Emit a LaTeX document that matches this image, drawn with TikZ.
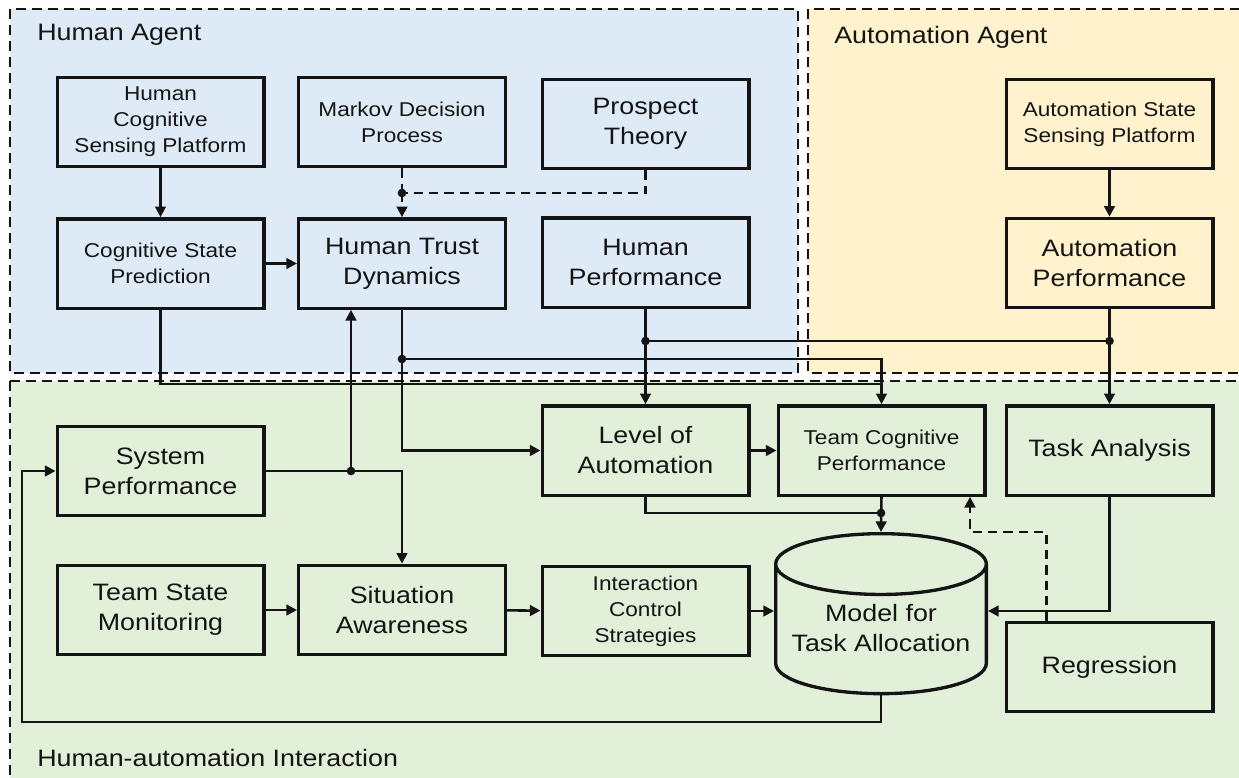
\documentclass[tikz,border=0pt]{standalone}
\usepackage{fontspec}
\setmainfont[FakeStretch=1.13]{Liberation Sans}
\usepackage{xcolor}
\usepackage{tikz}
\usetikzlibrary{positioning,arrows.meta,calc,shapes.geometric}
\definecolor{ink}{RGB}{20,20,20}
\definecolor{humanbg}{RGB}{222,235,247}
\definecolor{autobg}{RGB}{255,242,204}
\definecolor{interbg}{RGB}{226,240,217}
\newcommand{\bigtxt}{\fontsize{17.8}{22.5}\selectfont}
\newcommand{\smalltxt}{\fontsize{15}{19.5}\selectfont}
\tikzset{
  blk/.style={draw=ink, line width=2.5pt, minimum width=155pt, minimum height=67pt,
    align=center, inner sep=2pt, text=ink, font=\bigtxt},
  sblk/.style={blk, font=\smalltxt},
  dbase/.style={draw=ink, line width=2.5pt, cylinder, shape border rotate=90, aspect=0.33,
    minimum width=158pt, minimum height=120pt, inner sep=2pt, font=\bigtxt},
  dtext/.style={align=center, text=ink, font=\bigtxt, yshift=3.75pt},
  region/.style={draw=ink, line width=1.8pt, dash pattern=on 7.5pt off 4.5pt},
  rlabel/.style={anchor=base west, text=ink, font=\bigtxt, inner sep=0pt},
  wire/.style={line width=1.9pt, draw=ink},
  flow/.style={wire, -{Triangle[length=8pt,width=8pt]}},
  dwire/.style={wire, dash pattern=on 7pt off 4.5pt},
  dflow/.style={flow, dash pattern=on 7pt off 4.5pt},
  jn/.style={circle, fill=ink, inner sep=0pt, minimum size=6.5pt},
}
\begin{document}
\begin{tikzpicture}[x=0.75pt, y=-0.75pt]
  \useasboundingbox (0,0) rectangle (1239,778);
  % the three areas
  \begin{scope}
    \clip (0,0) rectangle (1239,778);
    \filldraw[region, fill=humanbg] (10,9) rectangle (798,373);
    \filldraw[region, fill=autobg] (808,9) rectangle (1260,373);
    \filldraw[region, fill=interbg] (10,381) rectangle (1260,800);
  \end{scope}
  \node[rlabel] (lhuman) at (37,40) {Human Agent};
  \node[rlabel] (lauto) at (834,43) {Automation Agent};
  \node[rlabel] (linter) at (37,766) {Human-automation Interaction};

  % human agent
  \node[sblk] (hcsp) at (160.5,122) {Human\\Cognitive\\Sensing Platform};
  \node[sblk] (mdp) at (402,122) {Markov Decision\\Process};
  \node[blk] (pt) at (645.5,124) {Prospect\\Theory};
  \node[sblk] (csp) at (160.5,263.5) {Cognitive State\\Prediction};
  \node[blk] (htd) at (402,263.5) {Human Trust\\Dynamics};
  \node[blk] (hp) at (645.5,262.5) {Human\\Performance};
  % automation agent
  \node[sblk] (assp) at (1109.5,124) {Automation State\\Sensing Platform};
  \node[blk] (ap) at (1109.5,263) {Automation\\Performance};
  % interaction
  \node[blk] (sp) at (160.5,471) {System\\Performance};
  \node[blk] (loa) at (645.5,450.5) {Level of\\Automation};
  \node[sblk] (tcp) at (881.5,450.5) {Team Cognitive\\Performance};
  \node[blk] (ta) at (1109.5,450.5) {Task Analysis};
  \node[blk] (tsm) at (160.5,610) {Team State\\Monitoring};
  \node[blk] (sa) at (402,610) {Situation\\Awareness};
  \node[sblk] (ics) at (645.5,611) {Interaction\\Control\\Strategies};
  \node[dbase, anchor=north, label={[dtext]center:{Model for\\Task Allocation}}] (model)
    at (881,532) {\phantom{Task Allocation}};
  \node[blk] (reg) at (1109.5,667) {Regression};

  % junctions
  \coordinate (jmdp) at (402,193);
  \coordinate (jhp) at (645.5,341);
  \coordinate (jap) at (1109.5,341);
  \coordinate (jhtd) at (402,359);
  \coordinate (cspturn) at (881.5,384);
  \coordinate (jsp) at (351,471);
  \coordinate (jloa) at (881,513);
  \coordinate (rturn) at (970,532);
  \coordinate (loop) at (22,722);

  \draw[flow] (hcsp) -- (csp);
  \draw[flow] (csp) -- (htd);
  \draw[dwire] (mdp) -- (jmdp);
  \draw[dwire] (pt.south) |- (jmdp);
  \draw[dflow] (jmdp) -- (htd);
  \draw[flow] (assp) -- (ap);
  \draw[flow] (hp) -- (loa);
  \draw[wire] (jhp) -- (jap);
  \draw[flow] (ap) -- (ta);
  \draw[flow] (htd.south) |- (loa.west);
  \draw[wire] (csp.south) |- (cspturn);
  \draw[flow] (jhtd) -| (tcp.north);
  \draw[wire] (sp.east) -- (jsp);
  \draw[flow] (jsp) -- (jsp |- htd.south);
  \draw[flow] (jsp) -| (sa.north);
  \draw[flow] (tsm) -- (sa);
  \draw[flow] (sa) -- (ics);
  \draw[flow] (ics.east) -- (ics.east -| model.west);
  \draw[flow] (loa) -- (tcp);
  \draw[wire] (loa.south) |- (jloa);
  \draw[flow] (tcp.south) -- (model.north);
  \draw[flow] (ta.south) |- (ics.east -| model.east);
  \draw[dflow] ($(reg.north west)!0.2!(reg.north east)$) |- (rturn) -- (rturn |- tcp.south);
  \draw[flow] (model.south) |- (loop) |- (sp.west);
  \foreach \j in {jmdp,jhp,jap,jhtd,jsp,jloa}
    \node[jn] at (\j) {};
\end{tikzpicture}
\end{document}
